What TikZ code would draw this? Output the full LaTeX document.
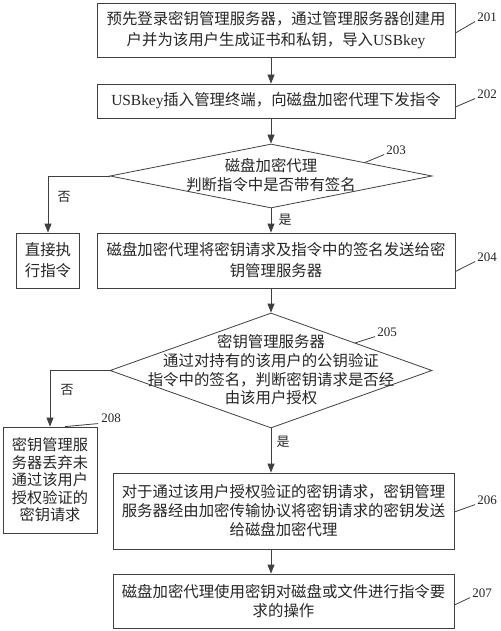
\documentclass[tikz,border=0pt]{standalone}
\usepackage{fontspec}
\setmainfont{Liberation Serif}
\newfontfamily\cjk{Noto Sans CJK SC}
\usetikzlibrary{arrows.meta,shapes.geometric}

\begin{document}
\begin{tikzpicture}[x=1pt,y=-1pt,
  line/.style={draw=black!75, line width=0.8pt},
  box/.style={line, rectangle, inner sep=0pt, align=center, text=black!85,
    font=\cjk\fontsize{15.4}{21}\selectfont},
  dia/.style={line, diamond, inner sep=0pt},
  txt/.style={align=center, inner sep=0pt, text=black!85,
    font=\cjk\fontsize{15.4}{18.7}\selectfont},
  arr/.style={line, -{Triangle[length=9pt,width=7pt]}},
  num/.style={font=\fontsize{13}{13}\selectfont, inner sep=0pt, text=black!85},
  tag/.style={font=\cjk\fontsize{13}{13}\selectfont, inner sep=0pt, text=black!85},
  lead/.style={draw=black!75, line width=0.8pt},
]
\useasboundingbox[fill=white] (0,0) rectangle (500,631);

% process boxes
\node[box, minimum width=358pt, minimum height=54pt] (b201) at (276,30)
  {预先登录密钥管理服务器，通过管理服务器创建用\\户并为该用户生成证书和私钥，导入{\rmfamily USBkey}};
\node[box, minimum width=358pt, minimum height=34pt] (b202) at (276,101)
  {{\rmfamily USBkey}插入管理终端，向磁盘加密代理下发指令};
\node[dia, minimum width=322pt, minimum height=64pt] (d203) at (271,176) {};
\node[txt] (t203) at (271,175) {磁盘加密代理\\判断指令中是否带有签名};
\node[box, minimum width=63pt, minimum height=55pt] (bdir) at (48,260.5)
  {直接执\\行指令};
\node[box, minimum width=358pt, minimum height=55pt] (b204) at (276,260.5)
  {磁盘加密代理将密钥请求及指令中的签名发送给密\\钥管理服务器};
\node[dia, minimum width=322pt, minimum height=115pt] (d205) at (271,370.5) {};
\node[txt] (t205) at (271,370)
  {密钥管理服务器\\通过对持有的该用户的公钥验证\\指令中的签名，判断密钥请求是否经\\由该用户授权};
\node[box, minimum width=94pt, minimum height=106pt,
  font=\cjk\fontsize{15.2}{17.5}\selectfont] (b208) at (50,480)
  {密钥管理服\\务器丢弃未\\通过该用户\\授权验证的\\密钥请求};
\node[box, minimum width=341pt, minimum height=76pt,
  font=\cjk\fontsize{15.4}{19}\selectfont] (b206) at (283.5,511)
  {对于通过该用户授权验证的密钥请求，密钥管理\\服务器经由加密传输协议将密钥请求的密钥发送\\给磁盘加密代理};
\node[box, minimum width=341pt, minimum height=54pt,
  font=\cjk\fontsize{15.4}{19}\selectfont] (b207) at (283.5,601)
  {磁盘加密代理使用密钥对磁盘或文件进行指令要\\求的操作};

% flow connectors
\draw[arr] (b201.south -| d203.north) -- (b202.north -| d203.north);
\draw[arr] (b202.south -| d203.north) -- (d203.north);
\draw[arr] (d203.south) -- (b204.north -| d203.south);
\draw[arr] (d203.west) -| (bdir.north);
\draw[arr] (b204.south -| d205.north) -- (d205.north);
\draw[arr] (d205.west) -| (b208.north);
\draw[arr] (d205.south) -- (b206.north -| d205.south);
\draw[arr] (b206.south -| d205.south) -- (b207.north -| d205.south);

% branch labels
\node[tag] (n203) at (64,197) {否};
\node[tag] (y203) at (285,220) {是};
\node[tag] (n205) at (67,390) {否};
\node[tag] (y205) at (283,442) {是};

% step numbers with leader lines
\node[num] (l201) at (487,17) {201};
\node[num] (l202) at (487,94) {202};
\node[num] (l203) at (396,150) {203};
\node[num] (l204) at (487,257) {204};
\node[num] (l205) at (387,332) {205};
\node[num] (l206) at (487,500) {206};
\node[num] (l207) at (482,593) {207};
\node[num] (l208) at (111,418) {208};

\coordinate (s203) at (365,162.5);
\coordinate (s205) at (355,343);
\draw[lead] ([yshift=-3pt]b201.east) -- ([xshift=-2pt]l201.south west);
\draw[lead] ([yshift=-6pt]b202.east) -- ([xshift=-2pt]l202.south west);
\draw[lead] (s203) -- ([xshift=-2pt]l203.south west);
\draw[lead] ([yshift=-11pt]b204.east) -- ([xshift=-2pt]l204.south west);
\draw[lead] (s205) -- ([xshift=-2pt]l205.south west);
\draw[lead] ([yshift=-1pt]b206.east) -- ([xshift=-2pt]l206.south west);
\draw[lead] ([yshift=-4pt]b207.east) -- ([xshift=-2pt]l207.south west);
\draw[lead] ([xshift=15pt]b208.north) -- ([xshift=-3pt,yshift=-1pt]l208.south west);
\end{tikzpicture}
\end{document}
